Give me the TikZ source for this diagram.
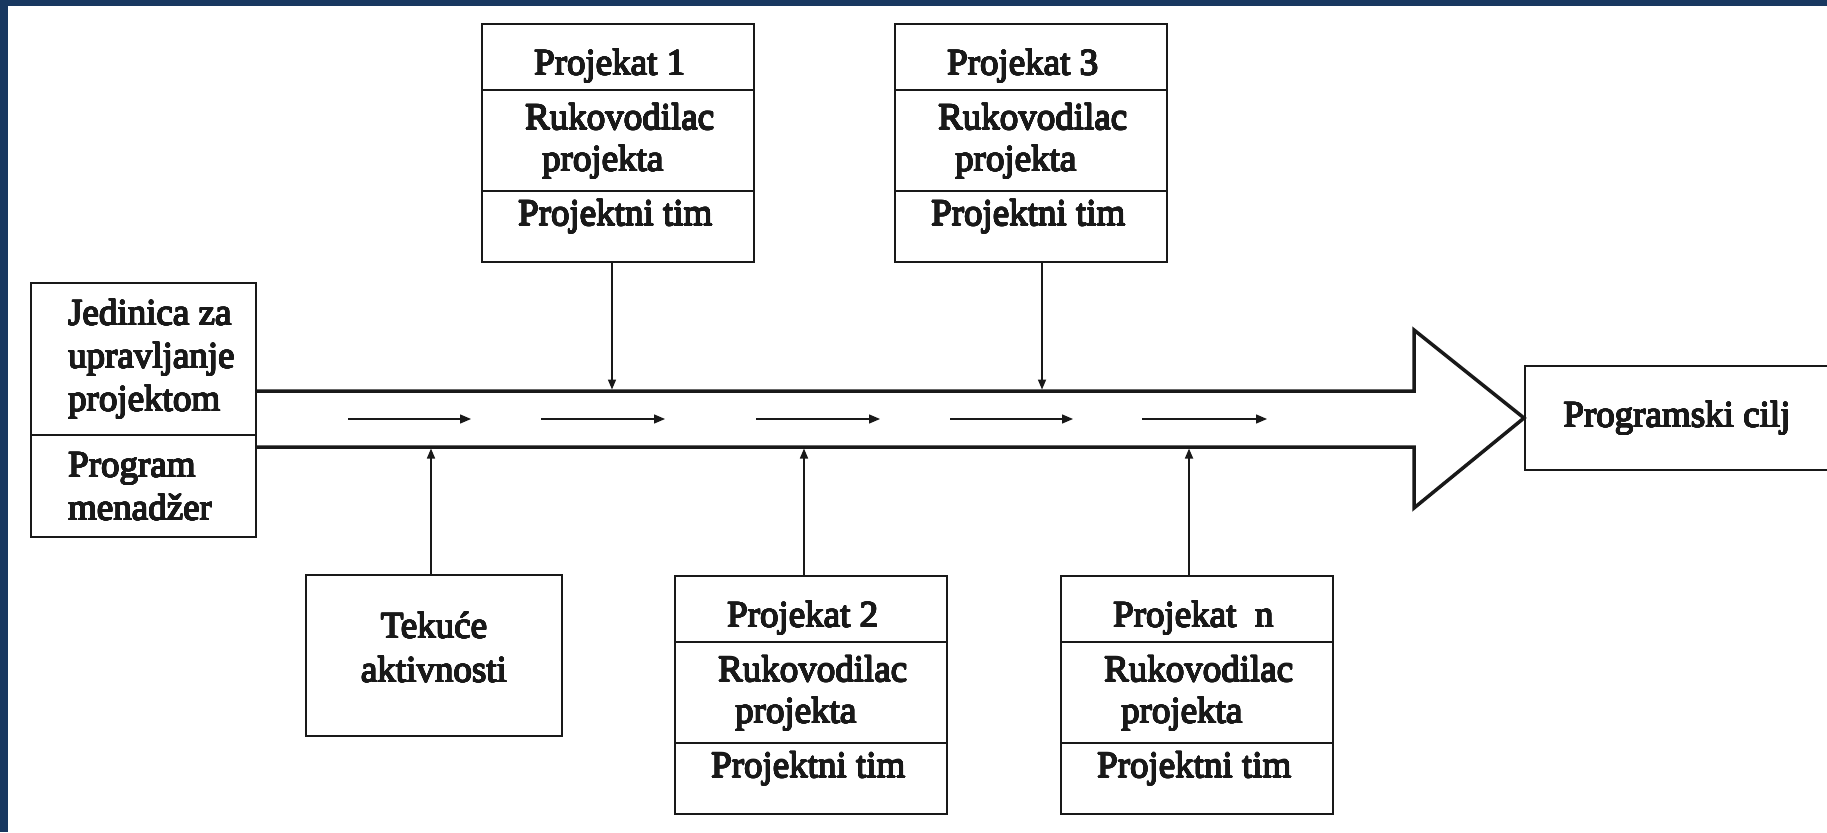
\documentclass[tikz,border=0pt]{standalone}
\usepackage{fontspec}
\usepackage{contour}
\newfontfamily\dfont{Liberation Serif}
\usetikzlibrary{arrows.meta}
\definecolor{frameblue}{RGB}{24,56,96}
\definecolor{ink}{RGB}{25,25,25}
\contourlength{0.55pt}
\contournumber{16}
\newcommand\heavy[1]{\contour{ink}{#1}}
\tikzset{
  panel/.style 2 args={draw=ink, line width=2pt, inner sep=0pt,
    minimum width=#1, minimum height=#2},
  txt/.style={inner sep=0pt, anchor=base west, text=ink,
    font=\dfont\fontsize{37}{44}\selectfont},
  ctxt/.style={txt, anchor=base},
  divline/.style={draw=ink, line width=2pt},
  chan/.style={draw=ink, line width=3.5pt, line join=miter},
  feed/.style={draw=ink, line width=1.6pt, -{Triangle[length=10pt,width=8pt]}},
  flow/.style={draw=ink, line width=1.4pt, -{Triangle[length=11pt,width=9pt]}},
}
\begin{document}
\begin{tikzpicture}[x=1pt,y=-1pt]
\useasboundingbox (0,0) rectangle (1827,832);
\fill[white] (0,0) rectangle (1827,832);
\fill[frameblue] (0,0) rectangle (1827,6);
\fill[frameblue] (0,0) rectangle (8,832);

% programme management unit
\node[panel={225}{254}] (unit) at (143.5,410) {};
\draw[divline] (unit.west |- 0,435) -- (unit.east |- 0,435);
\node[txt] (unit-a) at (68,325) {\heavy{Jedinica za}};
\node[txt] (unit-b) at (68,368) {\heavy{upravljanje}};
\node[txt] (unit-c) at (68,411) {\heavy{projektom}};
\node[txt] (unit-d) at (68,477) {\heavy{Program}};
\node[txt] (unit-e) at (68,520) {\heavy{menad\v{z}er}};

% programme goal
\node[panel={304}{104}] (goal) at (1677,418) {};
\node[ctxt] (goal-t) at (1677,427) {\heavy{Programski cilj}};

% ongoing activities
\node[panel={256}{161}] (tek) at (434,655.5) {};
\node[ctxt] (tek-a) at (434,638) {\heavy{Teku\'ce}};
\node[ctxt] (tek-b) at (434,682) {\heavy{aktivnosti}};

% project boxes
\foreach \n/\cx/\cy/\title in {p1/618/143/Projekat 1, p3/1031/143/Projekat 3,
    p2/811/695/Projekat 2, pn/1197/695/Projekat\ \ n} {
  \node[panel={272}{238}] (\n) at (\cx,\cy) {};
  \draw[divline] ([yshift=-67pt]\n.north west) -- ([yshift=-67pt]\n.north east);
  \draw[divline] ([yshift=-168pt]\n.north west) -- ([yshift=-168pt]\n.north east);
  \node[txt] (\n-a) at ([xshift=53pt,yshift=-52pt]\n.north west) {\heavy{\title}};
  \node[txt] (\n-b) at ([xshift=44pt,yshift=-106.5pt]\n.north west) {\heavy{Rukovodilac}};
  \node[txt] (\n-c) at ([xshift=61pt,yshift=-148pt]\n.north west) {\heavy{projekta}};
  \node[txt] (\n-d) at ([xshift=37pt,yshift=-202.5pt]\n.north west) {\heavy{Projektni tim}};
}

% main channel with its arrow head
\coordinate (htop) at (1414,330);
\coordinate (hbot) at (1414,508);
\draw[chan] (unit.east |- 0,391) -- (htop |- 0,391) -- (htop) -- (goal.west)
  -- (hbot) -- (hbot |- 0,447) -- (unit.east |- 0,447);

% inputs into the channel
\coordinate (in1) at (612,389.5);
\coordinate (in3) at (1042,389.5);
\coordinate (in0) at (431,448.5);
\coordinate (in2) at (804,448.5);
\coordinate (inn) at (1189,448.5);
\draw[feed] (in1 |- p1.south) -- (in1);
\draw[feed] (in3 |- p3.south) -- (in3);
\draw[feed] (in0 |- tek.north) -- (in0);
\draw[feed] (in2 |- p2.north) -- (in2);
\draw[feed] (inn |- pn.north) -- (inn);

% flow inside the channel
\foreach \i/\a/\b in {1/348/471, 2/541/665, 3/756/880, 4/950/1073, 5/1142/1267} {
  \coordinate (fs\i) at (\a,419);
  \coordinate (fe\i) at (\b,419);
  \draw[flow] (fs\i) -- (fe\i);
}
\end{tikzpicture}
\end{document}
